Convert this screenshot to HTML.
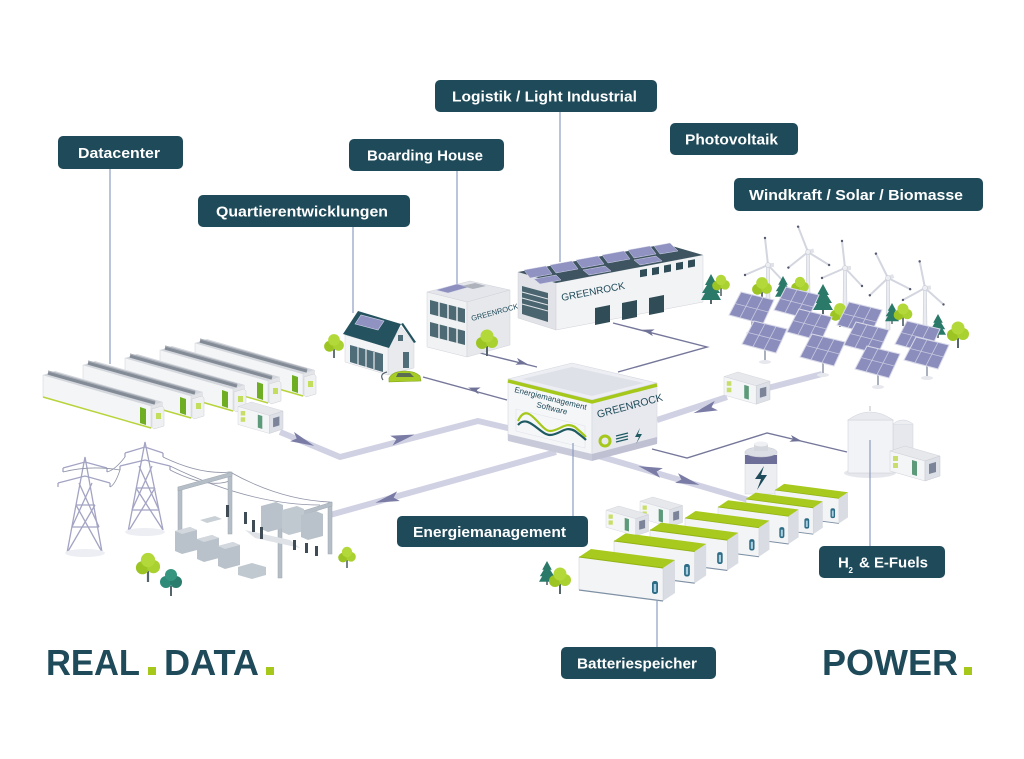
<!DOCTYPE html>
<html><head><meta charset="utf-8"><style>
html,body{margin:0;padding:0;background:#fff;}
svg{display:block;}
.lbl{font-family:"Liberation Sans",sans-serif;font-weight:bold;font-size:15px;fill:#fff;}
.big{font-family:"Liberation Sans",sans-serif;font-weight:bold;font-size:36px;fill:#1e4a59;}
.sm{font-family:"Liberation Sans",sans-serif;fill:#1e4a59;}
</style></head><body>
<svg width="1024" height="759" viewBox="0 0 1024 759" xmlns="http://www.w3.org/2000/svg">
<defs>
  <polygon id="ah" points="-14,-5 10,0 -14,5 -9,0" fill="#7a7ca6"/>
  <polygon id="ahs" points="-7,-3.5 5,0 -7,3.5 -4,0" fill="#6f7196"/>
  <g id="tree">
    <rect x="-1" y="-10" width="2" height="10" fill="#55656b"/>
    <circle cx="-5" cy="-13" r="6" fill="#9cc524"/>
    <circle cx="5" cy="-14" r="6" fill="#a9d12f"/>
    <circle cx="0" cy="-20" r="6.5" fill="#b3d83a"/>
  </g>
  <g id="pine">
    <rect x="-1" y="-6" width="2" height="6" fill="#55656b"/>
    <polygon points="0,-30 -6,-19 -4,-19 -9,-11 -6,-11 -10,-4 10,-4 6,-11 9,-11 4,-19 6,-19" fill="#2b7a69"/>
  </g>
  <g id="dc">
    <polygon points="108,31 120,27 120,49 108,53" fill="#e2e4e8"/>
    <polygon points="0,0 108,31 108,53 0,22" fill="#f4f5f6" stroke="#d6d9de" stroke-width="0.6"/>
    <line x1="0" y1="22" x2="108" y2="53" stroke="#b7d43a" stroke-width="1.5"/>
    <polygon points="0,0 12,-4 120,27 108,31" fill="#d4d7dd"/>
    <line x1="5" y1="-2" x2="112" y2="28" stroke="#838b96" stroke-width="3.5"/>
    <line x1="5" y1="-4" x2="112" y2="26" stroke="#a9aeb7" stroke-width="1.2"/>
    <polygon points="97,32 103,34 103,50 97,48" fill="#6fae22"/>
    <polygon points="109,34 119,31 121,33 121,51 111,54 109,52" fill="#eef0f2" stroke="#cdd0d6" stroke-width="0.5"/>
    <rect x="113" y="38" width="5" height="6" fill="#c3de5c"/>
  </g>
  <g id="box">
    <polygon points="0,5 15,0 50,10 35,15" fill="#e6e8ec" stroke="#cfd2d8" stroke-width="0.5"/>
    <polygon points="0,5 35,15 35,35 0,25" fill="#f4f5f7" stroke="#cfd2d8" stroke-width="0.5"/>
    <polygon points="35,15 50,10 50,30 35,35" fill="#dde0e6" stroke="#c7cad2" stroke-width="0.5"/>
    <rect x="3" y="10" width="5" height="5" fill="#c7df6a"/>
    <rect x="3" y="17" width="5" height="5" fill="#c7df6a"/>
    <polygon points="22,14 27,15.5 27,30 22,28.5" fill="#5d9a7a"/>
    <polygon points="39,18 46,16 46,26 39,28" fill="#7b8499"/>
  </g>
  <g id="cont">
    <polygon points="84,11 96,3 96,36 84,44" fill="#d9dce3"/>
    <polygon points="0,0 84,11 84,44 0,33" fill="#f3f4f6" stroke="#c9ccd3" stroke-width="0.5"/>
    <line x1="0" y1="33" x2="84" y2="44" stroke="#7d90a4" stroke-width="1.2"/>
    <polygon points="0,0 12,-8 96,3 84,11" fill="#a8c91d"/>
    <line x1="0" y1="0" x2="84" y2="11" stroke="#93b315" stroke-width="1"/>
    <rect x="73" y="24" width="6" height="13" rx="2.5" fill="#2d6c86"/>
    <rect x="74.8" y="27" width="2.4" height="8" fill="#a9cfe0"/>
  </g>
  <g id="panel">
    <line x1="0" y1="8" x2="0" y2="24" stroke="#aab0bd" stroke-width="2"/>
    <ellipse cx="0" cy="25" rx="6" ry="2" fill="#e6e8ee"/>
    <polygon points="-11,-16 22,-8 11,16 -23,7" fill="#8b8dbd" stroke="#d9dae9" stroke-width="1"/>
    <line x1="0" y1="-13.3" x2="-12" y2="9.7" stroke="#c8c9e0" stroke-width="0.8"/>
    <line x1="11" y1="-10.6" x2="-1" y2="12.6" stroke="#c8c9e0" stroke-width="0.8"/>
    <line x1="-17" y1="-4.5" x2="16.5" y2="4" stroke="#c8c9e0" stroke-width="0.8"/>
  </g>
  <g id="wt">
    <line x1="0" y1="0" x2="-3" y2="-27" stroke="#d3d6df" stroke-width="2"/>
    <line x1="0" y1="0" x2="-23" y2="10" stroke="#d3d6df" stroke-width="2"/>
    <line x1="0" y1="0" x2="17" y2="18" stroke="#d3d6df" stroke-width="2"/>
    <circle cx="-3" cy="-27" r="1.2" fill="#555a70"/>
    <circle cx="-23" cy="10" r="1.2" fill="#555a70"/>
    <circle cx="17" cy="18" r="1.2" fill="#555a70"/>
    <rect x="-2" y="-2" width="8" height="4" fill="#e1e3e9"/>
    <circle cx="0" cy="0" r="2.5" fill="#eceef2" stroke="#c3c7d1" stroke-width="0.5"/>
  </g>
</defs>

<rect width="1024" height="759" fill="#fff"/>

<!-- thick paths -->
<g fill="none" stroke="#d0d1e3" stroke-width="6" stroke-linejoin="round">
  <polyline points="280,432 340,457 478,421 512,429"/>
  <polyline points="330,515 556,452"/>
  <polyline points="595,455 765,505"/>
  <polyline points="657,420 727,397"/>
  <polyline points="768,388 822,374"/>
</g>
<use href="#ah" transform="translate(305,442) rotate(22.6)"/>
<use href="#ah" transform="translate(405,437) rotate(-14.6)"/>
<use href="#ah" transform="translate(385,500) rotate(164.4)"/>
<use href="#ah" transform="translate(648,469) rotate(196.4)"/>
<use href="#ah" transform="translate(690,482) rotate(16.4)"/>
<use href="#ah" transform="translate(703,410) rotate(161.8)"/>

<!-- thin connectors -->
<g fill="none" stroke="#75779a" stroke-width="1.4">
  <polyline points="618,372 707,347 613,323"/>
  <polyline points="652,449 687,458 767,433 847,452"/>
  <polyline points="423,377 507,400"/>
  <polyline points="480,353 537,367"/>
</g>
<use href="#ahs" transform="translate(647,331) rotate(194.3)"/>
<use href="#ahs" transform="translate(797,440) rotate(13.4)"/>
<use href="#ahs" transform="translate(473,389) rotate(195.3)"/>
<use href="#ahs" transform="translate(523,363) rotate(13.8)"/>

<!-- label leader lines -->
<g stroke="#8b9cc0" stroke-width="1.2">
  <line x1="110" y1="169" x2="110" y2="364"/>
  <line x1="353" y1="227" x2="353" y2="313"/>
  <line x1="457" y1="171" x2="457" y2="286"/>
  <line x1="560" y1="112" x2="560" y2="262"/>
</g>

<!-- datacenter -->
<use href="#dc" transform="translate(195,343)"/>
<use href="#dc" transform="translate(160,350)"/>
<use href="#dc" transform="translate(125,358)"/>
<use href="#dc" transform="translate(83,365)"/>
<use href="#dc" transform="translate(43,375)"/>
<use href="#box" transform="translate(238,402) scale(0.9)"/>

<!-- house -->
<use href="#tree" transform="translate(334,358) scale(0.9)"/>
<polygon points="388,347 401,327 414,343 414,368 388,375" fill="#e8eaee" stroke="#d0d3d9" stroke-width="0.5"/>
<polygon points="345,335 388,347 388,375 345,362" fill="#f3f4f6" stroke="#d0d3d9" stroke-width="0.5"/>
<polygon points="343,334 358,311 401,324 389,348" fill="#24535f"/>
<polygon points="401,324 403,323 416,342 414,343" fill="#24535f"/>
<polygon points="355,324 361,315 384,321 378,330" fill="#9093c2" stroke="#d6d7ea" stroke-width="0.6"/>
<polygon points="350,345 383,354 383,372 350,362" fill="#4f6d78"/>
<g stroke="#e8eaee" stroke-width="1.2"><line x1="358" y1="347" x2="358" y2="365"/><line x1="366" y1="349" x2="366" y2="367"/><line x1="374" y1="352" x2="374" y2="369"/></g>
<rect x="403" y="352" width="6" height="16" fill="#4f6d78"/>
<rect x="398" y="335" width="5" height="6" fill="#4f6d78"/>
<path d="M387,372 q-8,2 -4,8" stroke="#55656b" stroke-width="1.2" fill="none"/>
<path d="M389,378 q4,-7 16,-7 q10,0 15,5 l1,5 l-32,1 z" fill="#a6cc25" stroke="#7ea118" stroke-width="0.6"/>
<polygon points="398,373 410,373 414,377 396,377" fill="#5b6d52"/>

<!-- boarding house -->
<polygon points="427,292 470,281 510,290 467,302" fill="#e4e6eb" stroke="#cfd2d8" stroke-width="0.5"/>
<polygon points="436,290 457,284 469,287 448,293" fill="#8d90be" stroke="#d6d7ea" stroke-width="0.5"/>
<polygon points="462,286 475,283 486,286 473,289" fill="#aeb2bb"/>
<polygon points="427,292 467,302 467,357 427,347" fill="#f1f2f4" stroke="#cfd2d8" stroke-width="0.5"/>
<polygon points="430,300 465,309 465,323 430,314" fill="#4d6a74"/>
<polygon points="430,322 465,331 465,345 430,336" fill="#4d6a74"/>
<g stroke="#f1f2f4" stroke-width="1.4"><line x1="439" y1="302" x2="439" y2="340"/><line x1="448" y1="304" x2="448" y2="342"/><line x1="457" y1="306" x2="457" y2="344"/></g>
<polygon points="467,302 510,290 510,345 467,357" fill="#e6e8ec" stroke="#cfd2d8" stroke-width="0.5"/>
<text class="sm" x="472" y="321" font-size="7.5" transform="rotate(-15 472 321)">GREENROCK</text>
<use href="#tree" transform="translate(487,356) scale(1)"/>

<!-- logistics -->
<polygon points="518,272 556,283 556,330 518,318" fill="#e1e3e8" stroke="#cfd2d8" stroke-width="0.5"/>
<polygon points="522,286 548,293 548,322 522,314" fill="#4a6570"/>
<g stroke="#e1e3e8" stroke-width="1"><line x1="522" y1="292" x2="548" y2="299"/><line x1="522" y1="298" x2="548" y2="305"/><line x1="522" y1="304" x2="548" y2="311"/></g>
<polygon points="556,283 703,255 703,302 556,330" fill="#f2f3f5" stroke="#cfd2d8" stroke-width="0.5"/>
<polygon points="518,272 665,244 703,255 556,283" fill="#3e5561"/>
<g fill="#9093c2" stroke="#d6d7ea" stroke-width="0.5">
  <polygon points="524,270 546,266 552,274 530,278"/>
  <polygon points="550,265 572,261 578,269 556,273"/>
  <polygon points="576,260 598,256 604,264 582,268"/>
  <polygon points="602,255 624,251 630,259 608,263"/>
  <polygon points="628,250 650,246 656,254 634,258"/>
  <polygon points="654,246 670,243 678,251 660,254"/>
  <polygon points="534,279 556,275 561,280 540,284"/>
  <polygon points="583,270 605,266 611,271 589,275"/>
  <polygon points="634,260 656,256 662,261 640,265"/>
</g>
<g fill="#2f4c57">
  <polygon points="595,308 610,305 610,322 595,325"/>
  <polygon points="622,303 637,300 637,317 622,320"/>
  <polygon points="649,298 664,295 664,312 649,315"/>
  <polygon points="640,270 647,268.7 647,276 640,277.3"/>
  <polygon points="652,268 659,266.7 659,274 652,275.3"/>
  <polygon points="664,265.5 671,264.2 671,271.5 664,272.8"/>
  <polygon points="676,263 683,261.7 683,269 676,270.3"/>
  <polygon points="688,260.5 695,259.2 695,266.5 688,267.8"/>
</g>
<text class="sm" x="562" y="301" font-size="10" transform="rotate(-11 562 301)">GREENROCK</text>
<use href="#pine" transform="translate(711,304)"/>
<use href="#tree" transform="translate(721,296) scale(0.8)"/>

<!-- wind turbines -->
<g fill="#e9ebf0" stroke="#c3c7d1" stroke-width="0.5">
  <polygon points="766.5,265 769.5,265 770,300 766,300"/>
  <polygon points="806.5,252 809.5,252 810,296 806,296"/>
  <polygon points="843.5,268 846.5,268 847,308 843,308"/>
  <polygon points="886.5,278 889.5,278 890,330 886,330"/>
  <polygon points="923.5,288 926.5,288 927,330 923,330"/>
</g>
<use href="#wt" transform="translate(768,265)"/>
<use href="#wt" transform="translate(808,252) rotate(-15)"/>
<use href="#wt" transform="translate(845,268)"/>
<use href="#wt" transform="translate(888,278) rotate(-20)"/>
<use href="#wt" transform="translate(925,288) rotate(-5)"/>

<!-- trees around solar -->
<use href="#tree" transform="translate(762,301) scale(0.9)"/>
<use href="#pine" transform="translate(783,300) scale(0.8)"/>
<use href="#tree" transform="translate(800,298) scale(0.8)"/>
<use href="#pine" transform="translate(823,314)"/>
<use href="#tree" transform="translate(840,327) scale(0.9)"/>
<use href="#pine" transform="translate(892,324) scale(0.7)"/>
<use href="#tree" transform="translate(903,326) scale(0.85)"/>
<use href="#pine" transform="translate(938,338) scale(0.8)"/>
<use href="#tree" transform="translate(958,348) scale(1)"/>

<!-- solar panels -->
<use href="#panel" transform="translate(752,308)"/>
<use href="#panel" transform="translate(797,303)"/>
<use href="#panel" transform="translate(860,318)"/>
<use href="#panel" transform="translate(765,337)"/>
<use href="#panel" transform="translate(810,325)"/>
<use href="#panel" transform="translate(918,337)"/>
<use href="#panel" transform="translate(867,338)"/>
<use href="#panel" transform="translate(823,350)"/>
<use href="#panel" transform="translate(927,353)"/>
<use href="#panel" transform="translate(878,362)"/>

<!-- PV container -->
<use href="#box" transform="translate(724,372) scale(0.92)"/>

<!-- central building -->
<polygon points="508,379 572,363 657,383 592,400" fill="#eceef3" stroke="#d4d7de" stroke-width="0.6"/>
<polygon points="522,379 572,367 644,383 592,396" fill="#dfe1e9"/>
<polygon points="508,379 592,400 592,460 508,440" fill="#f5f6f8" stroke="#d4d7de" stroke-width="0.6"/>
<polygon points="592,400 657,383 657,443 592,460" fill="#e7e9ee" stroke="#d4d7de" stroke-width="0.6"/>
<polyline points="508,381 592,402 657,385" fill="none" stroke="#a6c81a" stroke-width="3.5"/>
<polygon points="508,434 592,454 592,461 508,441" fill="#c9cad9"/>
<polygon points="592,454 657,437 657,444 592,461" fill="#bfc0d2"/>
<text class="sm" x="514" y="392" font-size="8" transform="rotate(14 514 392)">Energiemanagement</text>
<text class="sm" x="536" y="407" font-size="8" transform="rotate(14 536 407)">Software</text>
<g fill="none" stroke="#e1e3ea" stroke-width="0.6">
  <polygon points="516,409 585,426 585,448 516,431"/>
</g>
<path d="M518,421 C528,399 540,431 550,431 C560,431 565,421 575,427 C582,433 584,435 586,437" fill="none" stroke="#a6c81a" stroke-width="2.2"/>
<path d="M518,425 C528,413 540,435 550,435 C560,435 565,425 575,431 C580,435 583,437 586,440" fill="none" stroke="#1e5a62" stroke-width="2.2"/>
<text class="sm" x="598" y="418" font-size="10.5" transform="rotate(-15 598 418)">GREENROCK</text>
<circle cx="605" cy="441" r="5" fill="none" stroke="#a6c81a" stroke-width="3"/>
<g stroke="#1e5a62" stroke-width="1.2"><line x1="616" y1="436" x2="628" y2="433"/><line x1="616" y1="439" x2="628" y2="436"/><line x1="616" y1="442" x2="628" y2="439"/></g>
<polygon points="640,428 635,437 639,437 636,444 642,434 638,434" fill="#1e5a62"/>
<line x1="573" y1="443" x2="573" y2="516" stroke="#8b9cc0" stroke-width="1.2"/>

<!-- silo & H2 -->
<rect x="893" y="424" width="20" height="46" fill="#e6e8ee" stroke="#cfd2d9" stroke-width="0.5"/>
<path d="M893,424 Q903,416 913,424" fill="#eceef2" stroke="#cfd2d9" stroke-width="0.5"/>
<ellipse cx="870" cy="473" rx="26" ry="5" fill="#e5e7ec"/>
<rect x="848" y="420" width="45" height="53" fill="#f2f3f6" stroke="#d0d3da" stroke-width="0.6"/>
<path d="M848,420 Q870,404 893,420 Z" fill="#e8eaef" stroke="#d0d3da" stroke-width="0.6"/>
<line x1="870" y1="406" x2="870" y2="411" stroke="#b8bcc6" stroke-width="1"/>
<use href="#box" transform="translate(890,446)"/>
<line x1="870" y1="440" x2="870" y2="546" stroke="#8b9cc0" stroke-width="1.2"/>

<!-- big battery -->
<rect x="745" y="452" width="32" height="42" fill="#eceef2" stroke="#cfd2d9" stroke-width="0.5"/>
<rect x="745" y="455" width="32" height="9" fill="#6e6f98"/>
<ellipse cx="761" cy="452" rx="16" ry="5" fill="#dcdee6" stroke="#c5c8d0" stroke-width="0.5"/>
<rect x="754" y="444" width="14" height="7" fill="#d4d7de"/>
<ellipse cx="761" cy="444" rx="7" ry="2.5" fill="#eef0f3"/>
<polygon points="764,466 755,479 761,479 757,490 767,475 761,475" fill="#1e4a59"/>

<!-- small battery-side containers -->
<use href="#box" transform="translate(640,497) scale(0.85)"/>
<use href="#box" transform="translate(606,506) scale(0.85)"/>

<!-- battery containers -->
<use href="#cont" transform="translate(775,490) scale(0.76)"/>
<use href="#cont" transform="translate(746,499) scale(0.8)"/>
<use href="#cont" transform="translate(718,507) scale(0.84)"/>
<use href="#cont" transform="translate(685,518) scale(0.88)"/>
<use href="#cont" transform="translate(650,530) scale(0.92)"/>
<use href="#cont" transform="translate(614,541) scale(0.96)"/>
<use href="#cont" transform="translate(579,557)"/>
<use href="#pine" transform="translate(547,585) scale(0.8)"/>
<use href="#tree" transform="translate(560,594) scale(1)"/>
<line x1="657" y1="600" x2="657" y2="647" stroke="#8b9cc0" stroke-width="1.2"/>

<!-- pylons -->
<g stroke="#a3a3c4" stroke-width="1.3" fill="none">
  <polyline points="67,553 85,457 102,552"/>
  <line x1="72" y1="527" x2="99" y2="527"/><line x1="76" y1="505" x2="95" y2="505"/>
  <line x1="67" y1="553" x2="95" y2="505"/><line x1="102" y1="552" x2="76" y2="505"/>
  <line x1="72" y1="527" x2="92" y2="483"/><line x1="99" y1="527" x2="79" y2="483"/>
  <polyline points="63,468 85,462 107,468"/><polyline points="58,483 85,476 110,483"/>
  <line x1="63" y1="468" x2="63" y2="472"/><line x1="107" y1="468" x2="107" y2="472"/>
  <line x1="58" y1="483" x2="58" y2="487"/><line x1="110" y1="483" x2="110" y2="487"/>
  <polyline points="128,532 145,442 163,530"/>
  <line x1="132" y1="510" x2="159" y2="510"/><line x1="136" y1="488" x2="155" y2="488"/>
  <line x1="128" y1="532" x2="155" y2="488"/><line x1="163" y1="530" x2="136" y2="488"/>
  <line x1="132" y1="510" x2="152" y2="466"/><line x1="159" y1="510" x2="139" y2="466"/>
  <polyline points="125,453 145,447 163,453"/><polyline points="120,466 145,460 170,466"/>
  <line x1="125" y1="453" x2="125" y2="457"/><line x1="163" y1="453" x2="163" y2="457"/>
  <line x1="120" y1="466" x2="120" y2="470"/><line x1="170" y1="466" x2="170" y2="470"/>
</g>
<ellipse cx="85" cy="553" rx="20" ry="4" fill="#eceef3"/>
<ellipse cx="145" cy="532" rx="20" ry="4" fill="#eceef3"/>
<g stroke="#8f93a6" stroke-width="0.8" fill="none">
  <path d="M107,472 Q115,470 125,457"/>
  <path d="M110,487 Q115,485 120,470"/>
  <path d="M63,472 Q90,465 120,470"/>
  <path d="M163,457 Q200,475 230,472"/>
  <path d="M170,470 Q210,490 232,480"/>
  <path d="M230,472 Q280,500 330,502"/>
  <path d="M170,466 Q250,505 320,505"/>
</g>

<!-- substation -->
<g fill="#b5bec6" stroke="#9ea8b2" stroke-width="0.5">
  <rect x="178" y="487" width="4" height="55"/>
  <rect x="228" y="472" width="4" height="62"/>
  <rect x="328" y="502" width="4" height="52"/>
  <polygon points="178,487 232,472 232,476 178,491"/>
  <polygon points="280,518 332,502 332,506 280,522"/>
  <rect x="278" y="518" width="4" height="60"/>
</g>
<g>
  <polygon points="175,531 190,527 197,530 197,550 182,554 175,551" fill="#b9c2ca"/>
  <polygon points="175,531 190,527 197,530 182,534" fill="#d2d8dd"/>
  <polygon points="197,539 212,535 219,538 219,558 204,562 197,559" fill="#b9c2ca"/>
  <polygon points="197,539 212,535 219,538 204,542" fill="#d2d8dd"/>
  <polygon points="218,546 233,542 240,545 240,565 225,569 218,566" fill="#b9c2ca"/>
  <polygon points="218,546 233,542 240,545 225,549" fill="#d2d8dd"/>
  <polygon points="261,506 276,502 283,505 283,528 268,532 261,529" fill="#b9c2ca"/>
  <polygon points="282,510 297,506 304,509 304,531 289,535 282,532" fill="#c1c9d0"/>
  <polygon points="301,515 316,511 323,514 323,536 308,540 301,537" fill="#b9c2ca"/>
  <polygon points="238,567 252,563 266,567 266,575 252,579 238,575" fill="#c1c9d0"/>
  <polygon points="200,520 215,516 222,519 207,523" fill="#c9d0d6"/>
  <polygon points="245,530 290,540 300,548 255,538" fill="#dfe3e7"/>
</g>
<g fill="#3f4c55">
  <rect x="226" y="505" width="3" height="12"/><rect x="244" y="512" width="3" height="12"/>
  <rect x="252" y="520" width="3" height="12"/><rect x="260" y="527" width="3" height="12"/>
  <rect x="293" y="540" width="3" height="10"/><rect x="305" y="543" width="3" height="10"/>
  <rect x="315" y="546" width="3" height="10"/>
</g>
<use href="#tree" transform="translate(148,582) scale(1.1)"/>
<g transform="translate(171,596)">
  <rect x="-1" y="-10" width="2" height="10" fill="#55656b"/>
  <circle cx="-5" cy="-14" r="6" fill="#2f8a78"/>
  <circle cx="5" cy="-14" r="6" fill="#2a7c6c"/>
  <circle cx="0" cy="-21" r="6" fill="#36957f"/>
</g>
<use href="#tree" transform="translate(347,568) scale(0.8)"/>

<!-- labels -->
<g fill="#1e4a59">
  <rect x="58" y="136" width="125" height="33" rx="5"/>
  <rect x="198" y="195" width="212" height="32" rx="5"/>
  <rect x="349" y="139" width="155" height="32" rx="5"/>
  <rect x="435" y="80" width="222" height="32" rx="5"/>
  <rect x="670" y="123" width="128" height="32" rx="5"/>
  <rect x="734" y="178" width="249" height="33" rx="5"/>
  <rect x="397" y="516" width="191" height="31" rx="5"/>
  <rect x="819" y="546" width="126" height="32" rx="5"/>
  <rect x="561" y="647" width="155" height="32" rx="5"/>
</g>
<text class="lbl" x="78" y="158" textLength="82" lengthAdjust="spacingAndGlyphs">Datacenter</text>
<text class="lbl" x="216" y="216.5" textLength="172" lengthAdjust="spacingAndGlyphs">Quartierentwicklungen</text>
<text class="lbl" x="367" y="160.5" textLength="116" lengthAdjust="spacingAndGlyphs">Boarding House</text>
<text class="lbl" x="452" y="101.5" textLength="185" lengthAdjust="spacingAndGlyphs">Logistik / Light Industrial</text>
<text class="lbl" x="685" y="144.5" textLength="93" lengthAdjust="spacingAndGlyphs">Photovoltaik</text>
<text class="lbl" x="749" y="200" textLength="214" lengthAdjust="spacingAndGlyphs">Windkraft / Solar / Biomasse</text>
<text class="lbl" x="413" y="537" textLength="153" lengthAdjust="spacingAndGlyphs">Energiemanagement</text>
<text class="lbl" x="838" y="567.5">H</text>
<text class="lbl" x="848.5" y="573" style="font-size:8px">2</text>
<text class="lbl" x="859" y="567.5" textLength="69" lengthAdjust="spacingAndGlyphs">&amp; E-Fuels</text>
<text class="lbl" x="577" y="668.5" textLength="120" lengthAdjust="spacingAndGlyphs">Batteriespeicher</text>

<!-- brand words -->
<text class="big" x="46" y="675" textLength="94" lengthAdjust="spacingAndGlyphs">REAL</text>
<rect x="148" y="667" width="8" height="8" fill="#a6c81a"/>
<text class="big" x="164" y="675" textLength="95" lengthAdjust="spacingAndGlyphs">DATA</text>
<rect x="266" y="667" width="8" height="8" fill="#a6c81a"/>
<text class="big" x="822" y="675" textLength="136" lengthAdjust="spacingAndGlyphs">POWER</text>
<rect x="964" y="667" width="8" height="8" fill="#a6c81a"/>
</svg>
</body></html>
